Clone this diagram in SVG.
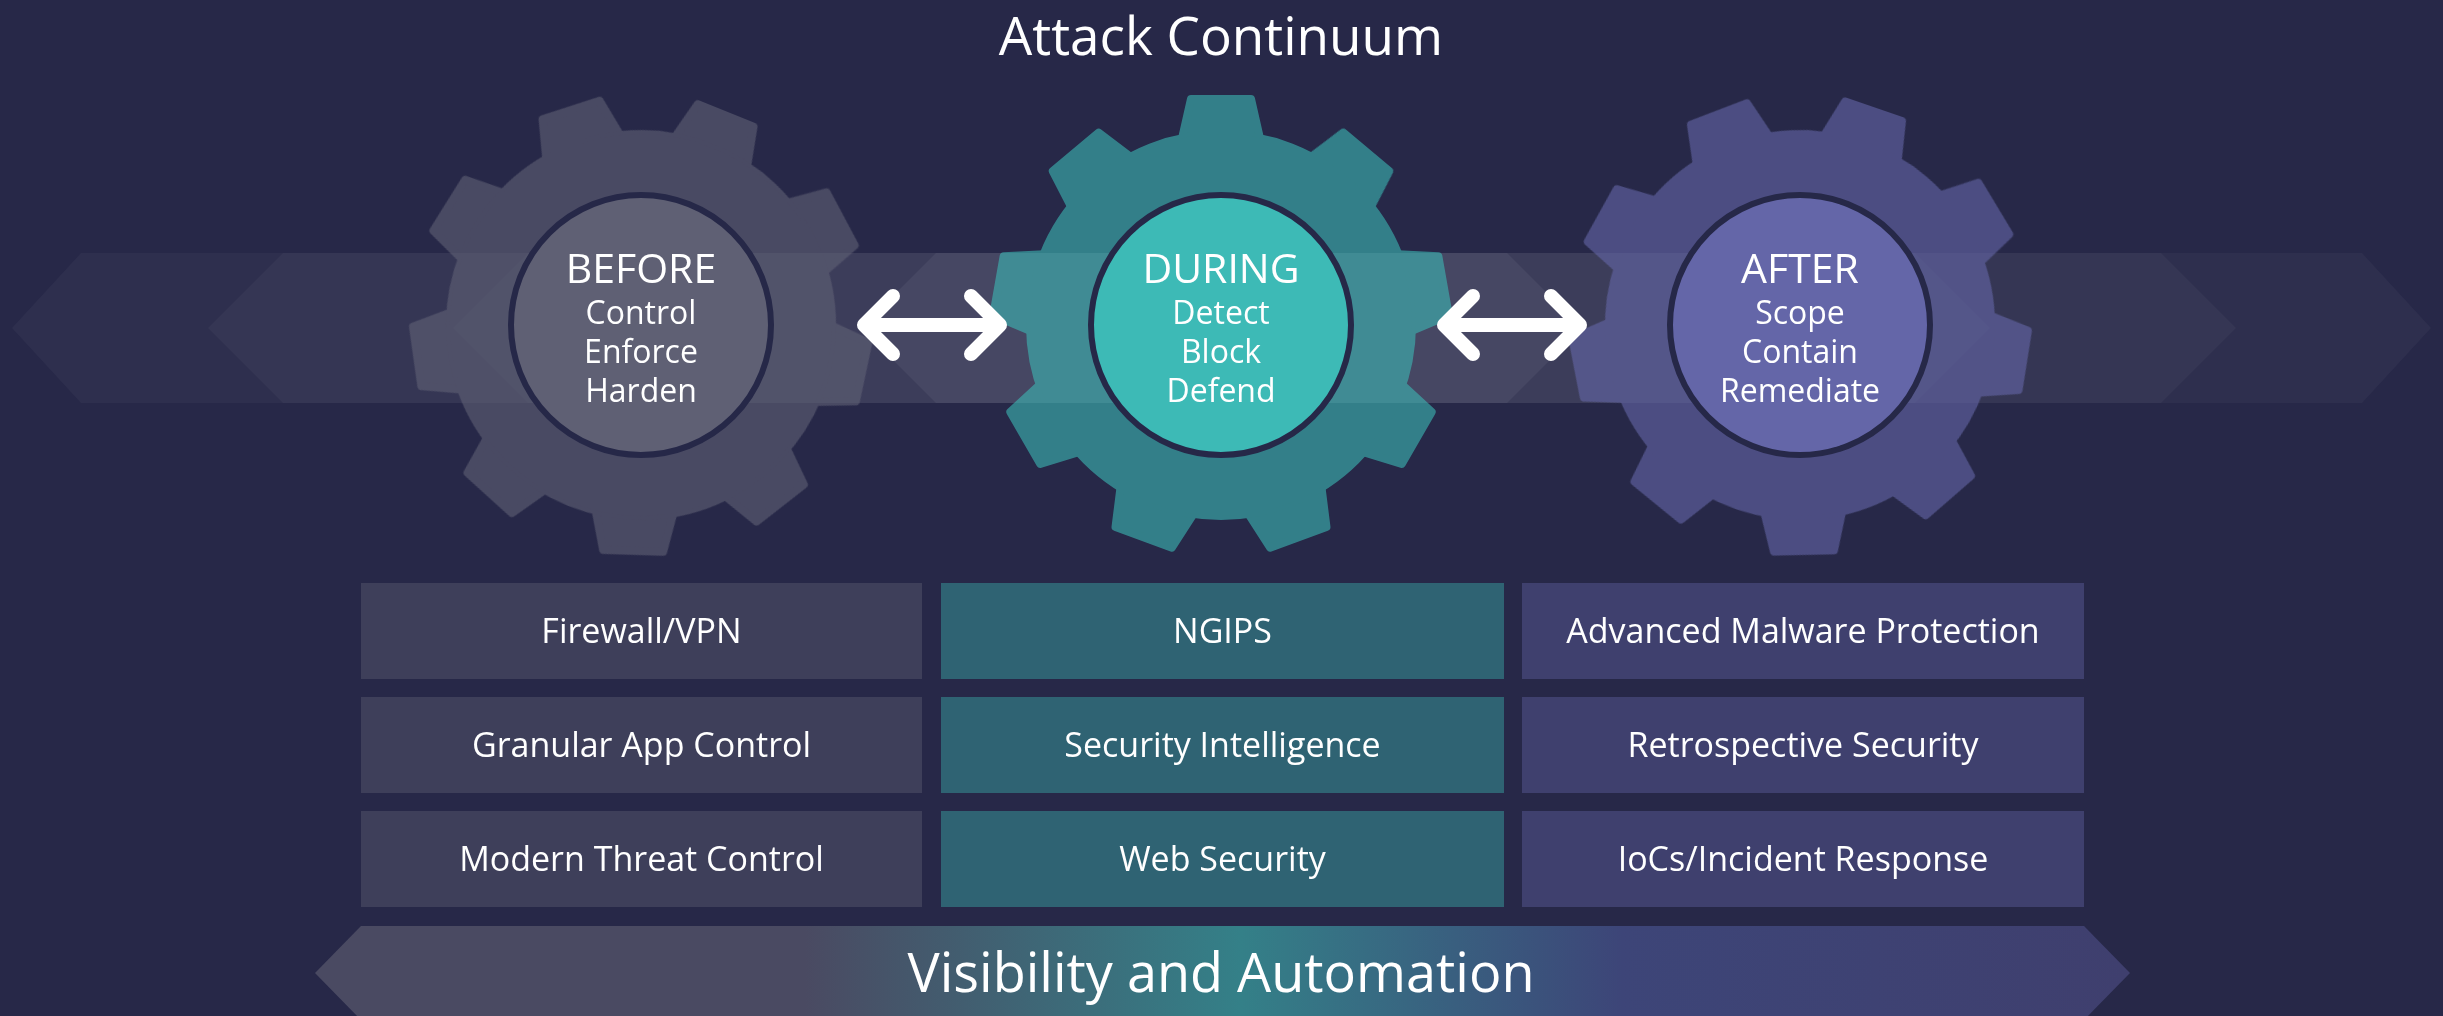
<svg xmlns="http://www.w3.org/2000/svg" xmlns:xlink="http://www.w3.org/1999/xlink" width="2443" height="1016" viewBox="0 0 2443 1016">
<style>
  text { font-family: "Open Sans", "Noto Sans", "Liberation Sans", sans-serif; fill: #ffffff; text-anchor: middle; }
  .title { font-size: 53px; }
  .head { font-size: 41px; }
  .sub { font-size: 32px; }
  .box { font-size: 34px; }
  .banner { font-size: 54px; }
  .band { fill: #ffffff; }
  .ring { stroke: #262848; stroke-width: 6; }
  .arrow { fill: none; stroke: #ffffff; stroke-width: 14; stroke-linecap: round; stroke-linejoin: round; }
</style>
<defs>
  <path id="tooth" d="M -40,-182 L -30,-226 L 30,-226 L 40,-182 Z" stroke-width="8" stroke-linejoin="round"/>
  <g id="teeth">
    <use xlink:href="#tooth" href="#tooth"/>
    <use xlink:href="#tooth" href="#tooth" transform="rotate(40)"/>
    <use xlink:href="#tooth" href="#tooth" transform="rotate(80)"/>
    <use xlink:href="#tooth" href="#tooth" transform="rotate(120)"/>
    <use xlink:href="#tooth" href="#tooth" transform="rotate(160)"/>
    <use xlink:href="#tooth" href="#tooth" transform="rotate(200)"/>
    <use xlink:href="#tooth" href="#tooth" transform="rotate(240)"/>
    <use xlink:href="#tooth" href="#tooth" transform="rotate(280)"/>
    <use xlink:href="#tooth" href="#tooth" transform="rotate(320)"/>
    <circle r="193" stroke-width="4"/>
  </g>
  <linearGradient id="bannerGrad" gradientUnits="userSpaceOnUse" x1="315" y1="0" x2="2130" y2="0">
    <stop offset="0" stop-color="#4a4a62"/>
    <stop offset="0.27" stop-color="#4a4a62"/>
    <stop offset="0.51" stop-color="#348088"/>
    <stop offset="0.72" stop-color="#3d4578"/>
    <stop offset="1" stop-color="#3f3f6e"/>
  </linearGradient>
</defs>
<rect width="2443" height="1016" fill="#272848"/>

<text class="title" x="1221" y="55">Attack Continuum</text>

<g id="band">
  <polygon class="band" opacity="0.035" points="12,328 81,253 2362,253 2431,328 2362,403 81,403"/>
  <polygon class="band" opacity="0.035" points="208,328 283,253 2161,253 2236,328 2161,403 283,403"/>
  <polygon class="band" opacity="0.04" points="453,328 528,253 1915,253 1990,328 1915,403 528,403"/>
  <polygon class="band" opacity="0.055" points="861,328 936,253 1507,253 1582,328 1507,403 936,403"/>
</g>

<g id="gear-before">
  <g transform="translate(641,325) rotate(22)" opacity="0.6" fill="#5f6074" stroke="#5f6074">
    <use xlink:href="#teeth" href="#teeth"/>
  </g>
  <circle class="ring" cx="641" cy="325" r="130" fill="#5f6074"/>
  <text class="head" x="641" y="283">BEFORE</text>
  <text class="sub" x="641" y="324">Control</text>
  <text class="sub" x="641" y="363">Enforce</text>
  <text class="sub" x="641" y="402">Harden</text>
</g>

<g id="gear-during">
  <g transform="translate(1221,325)" opacity="0.6" fill="#3dbab6" stroke="#3dbab6">
    <use xlink:href="#teeth" href="#teeth"/>
  </g>
  <circle class="ring" cx="1221" cy="325" r="130" fill="#3dbab6"/>
  <text class="head" x="1221" y="283">DURING</text>
  <text class="sub" x="1221" y="324">Detect</text>
  <text class="sub" x="1221" y="363">Block</text>
  <text class="sub" x="1221" y="402">Defend</text>
</g>

<g id="gear-after">
  <g transform="translate(1800,325) rotate(19)" opacity="0.6" fill="#6466a8" stroke="#6466a8">
    <use xlink:href="#teeth" href="#teeth"/>
  </g>
  <circle class="ring" cx="1800" cy="325" r="130" fill="#6466a8"/>
  <text class="head" x="1800" y="283">AFTER</text>
  <text class="sub" x="1800" y="324">Scope</text>
  <text class="sub" x="1800" y="363">Contain</text>
  <text class="sub" x="1800" y="402">Remediate</text>
</g>

<g id="connectors">
  <path class="arrow" d="M 864,325 L 1000,325 M 893,296 L 864,325 L 893,354 M 971,296 L 1000,325 L 971,354"/>
  <path class="arrow" d="M 1444,325 L 1580,325 M 1473,296 L 1444,325 L 1473,354 M 1551,296 L 1580,325 L 1551,354"/>
</g>

<g id="box-firewall"><rect x="361" y="583" width="561" height="96" fill="#3e3f5a"/><text class="box" x="641.5" y="643">Firewall/VPN</text></g>
<g id="box-granular"><rect x="361" y="697" width="561" height="96" fill="#3e3f5a"/><text class="box" x="641.5" y="757">Granular App Control</text></g>
<g id="box-modern"><rect x="361" y="811" width="561" height="96" fill="#3e3f5a"/><text class="box" x="641.5" y="871">Modern Threat Control</text></g>

<g id="box-ngips"><rect x="941" y="583" width="563" height="96" fill="#2f6373"/><text class="box" x="1222.5" y="643">NGIPS</text></g>
<g id="box-secintel"><rect x="941" y="697" width="563" height="96" fill="#2f6373"/><text class="box" x="1222.5" y="757">Security Intelligence</text></g>
<g id="box-websec"><rect x="941" y="811" width="563" height="96" fill="#2f6373"/><text class="box" x="1222.5" y="871">Web Security</text></g>

<g id="box-amp"><rect x="1522" y="583" width="562" height="96" fill="#3f406e"/><text class="box" x="1803" y="643">Advanced Malware Protection</text></g>
<g id="box-retro"><rect x="1522" y="697" width="562" height="96" fill="#3f406e"/><text class="box" x="1803" y="757">Retrospective Security</text></g>
<g id="box-iocs"><rect x="1522" y="811" width="562" height="96" fill="#3f406e"/><text class="box" x="1803" y="871">IoCs/Incident Response</text></g>

<g id="banner">
  <polygon points="361,926 2084,926 2130,973 2084,1020 361,1020 315,973" fill="url(#bannerGrad)"/>
  <text class="banner" x="1221" y="992">Visibility and Automation</text>
</g>
</svg>
